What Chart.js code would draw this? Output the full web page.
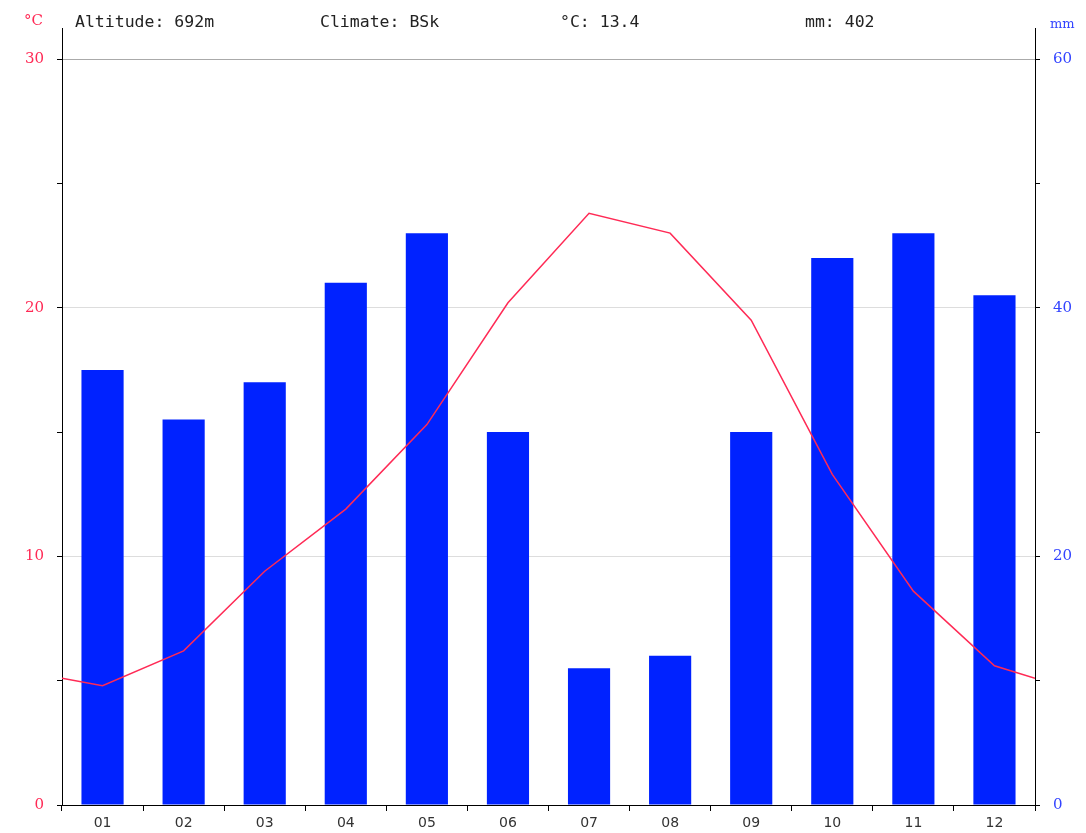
<!DOCTYPE html>
<html>
<head>
<meta charset="utf-8">
<script src="https://cdn.jsdelivr.net/npm/chart.js@4/dist/chart.umd.min.js"></script>
<style>
  html, body { margin: 0; padding: 0; background: #fff; }
  #wrap { width: 1086px; height: 833px; }
</style>
</head>
<body>
<div id="wrap"><canvas id="climateChart"></canvas></div>
<script>
// climate data
const months = ['01', '02', '03', '04', '05', '06', '07', '08', '09', '10', '11', '12'];
const precipMm = [35, 31, 34, 42, 46, 30, 11, 12, 30, 44, 46, 41];
const tempC = [4.8, 6.2, 9.4, 11.9, 15.3, 20.2, 23.8, 23.0, 19.5, 13.3, 8.6, 5.6];
const edgeTempC = 5.1; // value where the line meets both side axes

const altitude = '692m';
const climateCode = 'BSk';
const meanTemp = '13.4';
const totalPrecip = '402';

const tempColor = '#ff2a55';
const rainColor = '#0022ff';

// line runs on a hidden 0..12 axis so it can touch the edges
const linePoints = [{ x: 0, y: edgeTempC }];
tempC.forEach((t, i) => linePoints.push({ x: i + 0.5, y: t }));
linePoints.push({ x: 12, y: edgeTempC });

const headerText = {
    id: 'headerText',
    afterDraw(chart) {
        const ctx = chart.ctx;
        ctx.save();
        ctx.textBaseline = 'middle';
        ctx.textAlign = 'left';
        ctx.fillStyle = '#222';
        ctx.font = '16.5px "DejaVu Sans Mono", monospace';
        ctx.fillText('Altitude: ' + altitude, 75, 23);
        ctx.fillText('Climate: ' + climateCode, 320, 23);
        ctx.fillText('°C: ' + meanTemp, 560, 23);
        ctx.fillText('mm: ' + totalPrecip, 805, 23);

        ctx.font = '15px "DejaVu Serif", serif';
        ctx.fillStyle = tempColor;
        ctx.fillText('°C', 24, 21);
        ctx.font = '13px "DejaVu Serif", serif';
        ctx.fillStyle = '#3344ff';
        ctx.fillText('mm', 1050, 25);
        ctx.restore();
    }
};

const keepSteps = (step) => (scale) => {
    scale.ticks = scale.ticks.filter(t => Math.abs(t.value % step) < 1e-6);
};

new Chart(document.getElementById('climateChart').getContext('2d'), {
    type: 'bar',
    data: {
        labels: months,
        datasets: [
            {
                type: 'line',
                label: 'Temperature',
                data: linePoints,
                xAxisID: 'x2',
                yAxisID: 'y',
                borderColor: tempColor,
                borderWidth: 1.5,
                pointRadius: 0,
                tension: 0,
                fill: false,
                order: 0
            },
            {
                label: 'Precipitation',
                data: precipMm,
                xAxisID: 'x',
                yAxisID: 'y1',
                backgroundColor: rainColor,
                grouped: false,
                categoryPercentage: 1,
                barPercentage: 0.52,
                order: 1
            }
        ]
    },
    options: {
        responsive: true,
        maintainAspectRatio: false,
        animation: false,
        layout: { padding: { top: 28, left: 0, right: 0, bottom: 0 } },
        plugins: {
            legend: { display: false },
            tooltip: { enabled: false }
        },
        scales: {
            x: {
                type: 'category',
                offset: true,
                border: { color: '#000', width: 1 },
                grid: {
                    offset: true,
                    drawOnChartArea: false,
                    color: '#000',
                    tickLength: 6
                },
                ticks: {
                    color: '#333',
                    font: { family: '"DejaVu Sans", sans-serif', size: 14 },
                    padding: 4
                },
                afterFit: (scale) => { scale.height = 28; }
            },
            x2: {
                type: 'linear',
                min: 0,
                max: 12,
                offset: false,
                grid: { offset: false },
                display: false
            },
            y: {
                position: 'left',
                min: 0,
                max: 31.25,
                afterBuildTicks: keepSteps(5),
                border: { color: '#000', width: 1 },
                grid: {
                    color: (c) => {
                        const v = c.tick ? c.tick.value : 0;
                        if (v === 30) return '#aaa';
                        if (v === 10 || v === 20) return '#ddd';
                        return 'rgba(0,0,0,0)';
                    },
                    tickColor: '#000',
                    tickLength: 5
                },
                ticks: {
                    stepSize: 5,
                    color: tempColor,
                    font: { family: '"DejaVu Serif", serif', size: 15 },
                    padding: 13,
                    callback: (v) => (v % 10 === 0 ? v : '')
                },
                afterFit: (scale) => { scale.width = 62; }
            },
            y1: {
                position: 'right',
                min: 0,
                max: 62.5,
                afterBuildTicks: keepSteps(10),
                border: { color: '#000', width: 1 },
                grid: {
                    drawOnChartArea: false,
                    color: '#000',
                    tickLength: 5
                },
                ticks: {
                    stepSize: 10,
                    color: '#3344ff',
                    font: { family: '"DejaVu Serif", serif', size: 15 },
                    padding: 13,
                    callback: (v) => (v % 20 === 0 ? v : '')
                },
                afterFit: (scale) => { scale.width = 51; }
            }
        }
    },
    plugins: [headerText]
});
</script>
</body>
</html>
